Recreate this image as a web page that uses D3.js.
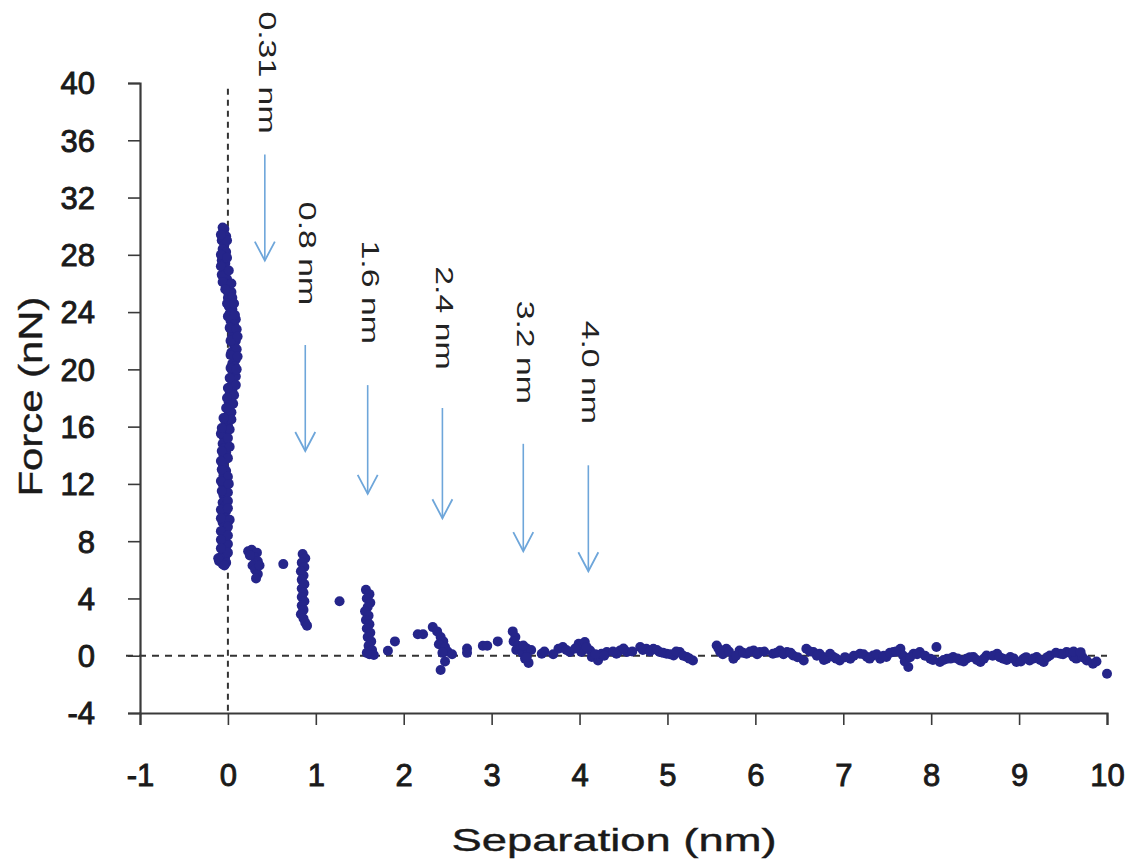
<!DOCTYPE html>
<html>
<head>
<meta charset="utf-8">
<script src="https://cdn.jsdelivr.net/npm/d3@7/dist/d3.min.js"></script>
<style>
  html, body { margin: 0; padding: 0; background: #ffffff; }
  svg { display: block; }
</style>
</head>
<body>
<svg id="chart" width="1129" height="861"></svg>
<script>
// ---------- data ----------
const xTicks = [-1, 0, 1, 2, 3, 4, 5, 6, 7, 8, 9, 10];
const yTicks = [-4, 0, 4, 8, 12, 16, 20, 24, 28, 32, 36, 40];
const xTitle = "Separation (nm)";
const yTitle = "Force (nN)";

// annotations: label, x (nm), text start (nN), arrow top (nN), arrow tip (nN)
const annotLabels  = ["0.31 nm", "0.8 nm", "1.6 nm", "2.4 nm", "3.2 nm", "4.0 nm"];
const annotX       = [0.42, 0.88, 1.59, 2.44, 3.36, 4.10];
const annotTextTop = [45.0, 31.7, 29.0, 27.2, 24.8, 23.4];
const arrowTop     = [35.0, 21.7, 18.9, 17.3, 14.8, 13.3];
const arrowTip     = [27.6, 14.3, 11.3, 9.6, 7.3, 5.9];

// contact region (near 0 nm)
const contactPts = [
 [-0.04,29.8],[-0.06,29.5],[-0.02,29.3],[-0.07,29.0],[-0.04,28.7],[-0.06,28.4],[-0.02,28.2],[-0.05,27.9],
 [-0.07,27.6],[-0.03,27.4],[-0.05,27.1],[-0.02,26.8],[-0.04,26.5],[-0.01,26.3],[-0.03,26.0],[0.01,25.8],
 [-0.01,25.5],[0.02,25.2],[0.00,25.0],[0.03,24.7],[0.01,24.4],[0.05,24.2],[0.02,23.9],[0.05,23.6],
 [0.03,23.4],[0.07,23.1],[0.04,22.8],[0.07,22.6],[0.05,22.3],[0.09,22.0],[0.06,21.8],[0.08,21.5],
 [0.04,21.2],[0.07,21.0],[0.09,20.7],[0.05,20.4],[0.08,20.2],[0.05,19.9],[0.07,19.6],[0.04,19.3],
 [0.06,19.1],[0.03,18.8],[0.05,18.5],[0.02,18.3],[0.04,18.0],[0.01,17.7],[0.03,17.5],[0.00,17.2],
 [0.02,16.9],[-0.01,16.7],[-0.03,16.4],[0.00,16.1],[-0.04,15.9],[-0.02,15.6],[-0.05,15.3],[-0.03,15.0],
 [-0.06,14.8],[-0.04,14.5],[-0.02,14.2],[-0.05,14.0],[-0.03,13.7],[-0.06,13.4],[-0.04,13.1],[-0.02,12.9],
 [-0.05,12.6],[-0.03,12.3],[-0.06,12.0],[-0.04,11.8],[-0.02,11.5],[-0.05,11.2],[-0.03,11.0],[-0.06,10.7],
 [-0.04,10.4],[-0.02,10.1],[-0.05,9.9],[-0.03,9.6],[-0.06,9.3],[-0.04,9.1],[-0.02,8.8],[-0.05,8.5],
 [-0.03,8.2],[-0.06,8.0],[-0.04,7.7],[-0.02,7.4],[-0.05,7.2],[-0.03,6.9],[-0.08,6.9],[-0.10,6.6],
 [-0.06,6.4],[-0.02,6.5],[0.00,7.8],[0.02,9.5],[0.00,11.4],[-0.07,13.0],[0.02,14.6],[-0.08,15.5],
 [0.04,17.0],[0.09,19.5],[0.10,21.4],[0.09,23.5],[0.04,25.4],[-0.07,26.6],[-0.08,28.0],[-0.06,29.9],
 [-0.01,29.0],[-0.08,29.4],[-0.01,27.8],[-0.08,27.2],[0.01,26.9],[-0.06,26.1],[0.04,26.0],[-0.03,25.6],
 [0.05,25.0],[-0.01,24.6],[0.07,24.6],[0.00,23.7],[0.08,23.8],[0.02,22.9],[0.10,22.8],[0.03,22.0],
 [0.11,22.3],[0.03,21.0],[0.11,20.9],[0.03,20.1],[0.10,20.0],[0.02,19.4],[0.09,18.9],[0.00,18.7],
 [0.07,18.2],[-0.01,18.0],[0.06,17.6],[-0.02,17.3],[0.04,16.5],[-0.05,16.6],[0.02,15.8],[-0.07,15.9],
 [0.00,15.2],[-0.07,14.3],[0.00,13.8],[-0.08,13.6],[0.00,12.5],[-0.08,12.2],[0.01,12.0],[-0.07,11.5],
 [0.00,10.8],[-0.08,10.2],[0.00,10.3],[-0.08,9.6],[0.00,9.0],[-0.08,8.7],[0.00,8.4],[-0.08,8.1],
 [0.00,7.2],[-0.08,7.5],[-0.11,6.8],[-0.04,6.3]
];

// stepped region (0.2 – 3.5 nm)
const stepPts = [
 [0.23,7.3],[0.27,7.4],[0.33,7.2],[0.30,6.9],[0.34,6.6],[0.28,6.3],[0.31,6.0],[0.34,5.7],[0.32,5.4],
 [0.25,7.0],[0.36,6.3],
 [0.63,6.4],
 [0.85,7.1],[0.88,6.8],[0.84,6.5],[0.87,6.2],[0.83,5.9],[0.86,5.6],[0.84,5.3],[0.87,5.0],[0.84,4.7],
 [0.86,4.4],[0.84,4.1],[0.87,3.8],[0.84,3.5],[0.86,3.2],[0.83,2.9],[0.86,2.6],[0.88,2.3],[0.90,2.1],
 [1.27,3.8],
 [1.57,4.6],[1.61,4.3],[1.58,4.0],[1.62,3.7],[1.59,3.4],[1.56,3.1],[1.60,2.8],[1.57,2.5],[1.61,2.2],
 [1.58,1.9],[1.62,1.6],[1.59,1.3],[1.63,1.0],[1.60,0.7],[1.64,0.4],[1.61,0.1],[1.66,0.05],[1.58,0.2],
 [1.82,0.35],[1.90,1.0],[2.16,1.5],[2.22,1.5],
 [2.33,2.0],[2.38,1.7],[2.42,1.3],[2.45,1.0],[2.40,0.8],[2.47,0.6],[2.50,0.3],[2.55,0.1],[2.44,0.2],
 [2.47,-0.4],[2.42,-1.0],
 [2.72,0.5],[2.72,0.2],[2.90,0.7],[2.95,0.7],[3.07,1.0],
 [3.24,1.7],[3.27,1.3],[3.25,1.0],[3.30,0.7],[3.28,0.4],[3.35,0.2],[3.40,0.5],[3.45,0.4],[3.38,-0.2],[3.42,-0.5]
];

// baseline region (3.5 – 10 nm)
const baselinePts = [
 [3.36,0.72],[3.40,-0.09],[3.57,0.14],[3.76,0.49],[3.81,0.61],[3.89,0.26],[3.99,0.84],[4.02,0.26],
 [4.06,0.96],[4.12,0.37],[4.14,-0.09],[4.21,-0.33],[4.25,0.14],[4.31,0.26],[4.42,0.14],[4.46,0.37],
 [4.54,0.26],[4.69,0.61],[4.76,0.49],[4.84,0.49],[4.91,0.26],[4.99,0.14],[5.07,0.02],[5.14,0.26],
 [5.22,-0.09],[5.29,-0.33],[5.56,0.72],[5.60,0.26],[5.67,0.49],[5.75,-0.21],[5.82,0.37],[5.90,0.14],
 [5.98,0.37],[6.05,0.26],[6.20,0.14],[6.28,0.37],[6.36,0.26],[6.43,0.02],[6.55,-0.33],[6.58,0.49],
 [6.66,0.26],[6.73,0.14],[6.81,-0.21],[6.89,-0.09],
 [6.77,-0.09],[6.85,0.14],[6.96,-0.33],[7.08,-0.21],[7.19,0.14],[7.27,-0.09],[7.34,0.02],[7.42,-0.21],
 [7.49,-0.09],[7.57,0.26],[7.65,0.49],[7.68,0.02],[7.74,-0.79],[7.80,0.14],[7.87,0.26],[7.99,-0.21],
 [8.06,0.61],[8.10,-0.44],[8.18,-0.21],[8.25,-0.09],[8.33,-0.33],[8.40,-0.21],[8.48,-0.09],[8.56,-0.44],
 [8.63,0.02],[8.75,0.14],[8.82,-0.21],[8.90,-0.09],[8.97,-0.44],[9.05,-0.21],[9.12,-0.33],[9.20,-0.09],
 [9.28,-0.44],[9.35,0.02],[9.47,0.14],[9.54,0.26],[9.62,-0.09],[9.69,0.02],[9.77,-0.33],[9.84,-0.56],
 [10.0,-1.26],
 [3.60,0.30],[3.70,0.10],[3.85,0.40],[3.95,0.50],[4.08,0.60],[4.18,0.10],[4.28,0.00],[4.38,0.30],
 [4.50,0.50],[4.60,0.30],[4.72,0.40],[4.80,0.30],[4.88,0.40],[4.95,0.20],[5.03,0.10],[5.10,0.30],
 [5.18,0.00],[5.25,-0.20],[5.58,0.50],[5.63,0.10],[5.70,0.30],[5.78,0.00],[5.86,0.20],[5.94,0.30],
 [6.02,0.10],[6.10,0.30],[6.24,0.20],[6.32,0.10],[6.40,0.20],[6.48,-0.10],[6.62,0.30],[6.70,0.00],
 [6.78,-0.30],[6.92,-0.20],[7.02,-0.10],[7.12,0.00],[7.23,0.10],[7.30,-0.20],[7.38,0.10],[7.46,0.00],
 [7.53,0.20],[7.60,0.30],[7.70,-0.40],[7.76,-0.10],[7.84,0.10],[7.93,0.00],[8.02,-0.30],[8.14,-0.30],
 [8.22,-0.20],[8.30,-0.20],[8.37,-0.40],[8.44,-0.10],[8.52,-0.30],[8.60,-0.20],[8.70,0.00],[8.78,-0.10],
 [8.86,-0.30],[8.94,-0.20],[9.02,-0.40],[9.08,-0.10],[9.16,-0.20],[9.24,-0.30],[9.32,-0.10],[9.42,0.20],
 [9.50,0.10],[9.58,0.20],[9.65,-0.20],[9.72,-0.10],[9.88,-0.40],[9.62,0.30],[9.70,0.25]
];

// ---------- drawing ----------
const svg = d3.select("#chart");
svg.append("rect").attr("width", 1129).attr("height", 861).attr("fill", "#ffffff");

const x = d3.scaleLinear().domain([-1, 10]).range([140, 1107]);
const y = d3.scaleLinear().domain([-4, 40]).range([713, 83]);

const axisColor = "#3a3a3a";
const font = "'Liberation Sans', Arial, sans-serif";

// dashed reference lines
svg.append("line")
  .attr("x1", x(0)).attr("x2", x(0)).attr("y1", y(39.6)).attr("y2", y(-4))
  .attr("stroke", "#333").attr("stroke-width", 2).attr("stroke-dasharray", "6,5");
svg.append("line")
  .attr("x1", x(-1) - 14).attr("x2", x(10)).attr("y1", y(0)).attr("y2", y(0))
  .attr("stroke", "#333").attr("stroke-width", 2).attr("stroke-dasharray", "7,6");

// axes
const xAxis = d3.axisBottom(x).tickValues(xTicks).tickSize(12).tickFormat(d3.format("d"));
const gx = svg.append("g").attr("transform", `translate(0,${y(-4)})`).call(xAxis);
gx.select(".domain").attr("stroke", axisColor).attr("stroke-width", 2.2);
gx.selectAll(".tick line").attr("stroke", axisColor).attr("stroke-width", 1.6);
gx.selectAll(".tick text")
  .attr("font-family", font).attr("font-size", 31).attr("fill", "#1a1a1a")
  .attr("stroke", "#1a1a1a").attr("stroke-width", 0.9)
  .attr("y", 62).attr("dy", "0.35em")
  .text(d => d3.format("d")(d).replace("\u2212", "-"));

const yAxis = d3.axisLeft(y).tickValues(yTicks).tickSize(12).tickFormat(d3.format("d"));
const gy = svg.append("g").attr("transform", `translate(${x(-1)},0)`).call(yAxis);
gy.select(".domain").attr("stroke", axisColor).attr("stroke-width", 2.2);
gy.selectAll(".tick line").attr("stroke", axisColor).attr("stroke-width", 1.6);
gy.selectAll(".tick text")
  .attr("font-family", font).attr("font-size", 31).attr("fill", "#1a1a1a")
  .attr("stroke", "#1a1a1a").attr("stroke-width", 0.9)
  .attr("x", -45).attr("dy", "0.35em")
  .text(d => d3.format("d")(d).replace("\u2212", "-"));

// axis titles
svg.append("text")
  .attr("x", 614).attr("y", 840).attr("dy", "0.35em")
  .attr("text-anchor", "middle")
  .attr("font-family", font).attr("font-size", 32).attr("fill", "#1a1a1a")
  .attr("stroke", "#1a1a1a").attr("stroke-width", 0.4)
  .attr("textLength", 325).attr("lengthAdjust", "spacingAndGlyphs")
  .text(xTitle);

svg.append("text")
  .attr("transform", `translate(30,${y(18.1)}) rotate(-90)`)
  .attr("text-anchor", "middle").attr("dy", "0.35em")
  .attr("font-family", font).attr("font-size", 34).attr("fill", "#1a1a1a")
  .attr("stroke", "#1a1a1a").attr("stroke-width", 0.4)
  .attr("textLength", 200).attr("lengthAdjust", "spacingAndGlyphs")
  .text(yTitle);

// annotations
const arrowColor = "#6ea6da";
annotLabels.forEach((lab, i) => {
  const ax = x(annotX[i]);
  svg.append("text")
    .attr("transform", `translate(${ax + 2},${y(annotTextTop[i])}) rotate(90) scale(1.47,1)`)
    .attr("dy", "0.35em")
    .attr("font-family", font).attr("font-size", 23).attr("fill", "#222")
    .text(lab);
  svg.append("line")
    .attr("x1", ax).attr("x2", ax).attr("y1", y(arrowTop[i])).attr("y2", y(arrowTip[i]))
    .attr("stroke", arrowColor).attr("stroke-width", 1.6);
  const tip = y(arrowTip[i]);
  svg.append("path")
    .attr("d", `M${ax - 10},${tip - 19} L${ax},${tip} L${ax + 10},${tip - 19}`)
    .attr("fill", "none").attr("stroke", arrowColor).attr("stroke-width", 1.8);
});

// scatter points
const dotColor = "#25258a";
const allPts = contactPts.concat(stepPts, baselinePts);
svg.append("g").selectAll("circle").data(allPts).join("circle")
  .attr("cx", d => x(d[0])).attr("cy", d => y(d[1]))
  .attr("r", 5).attr("fill", dotColor);
</script>
</body>
</html>
